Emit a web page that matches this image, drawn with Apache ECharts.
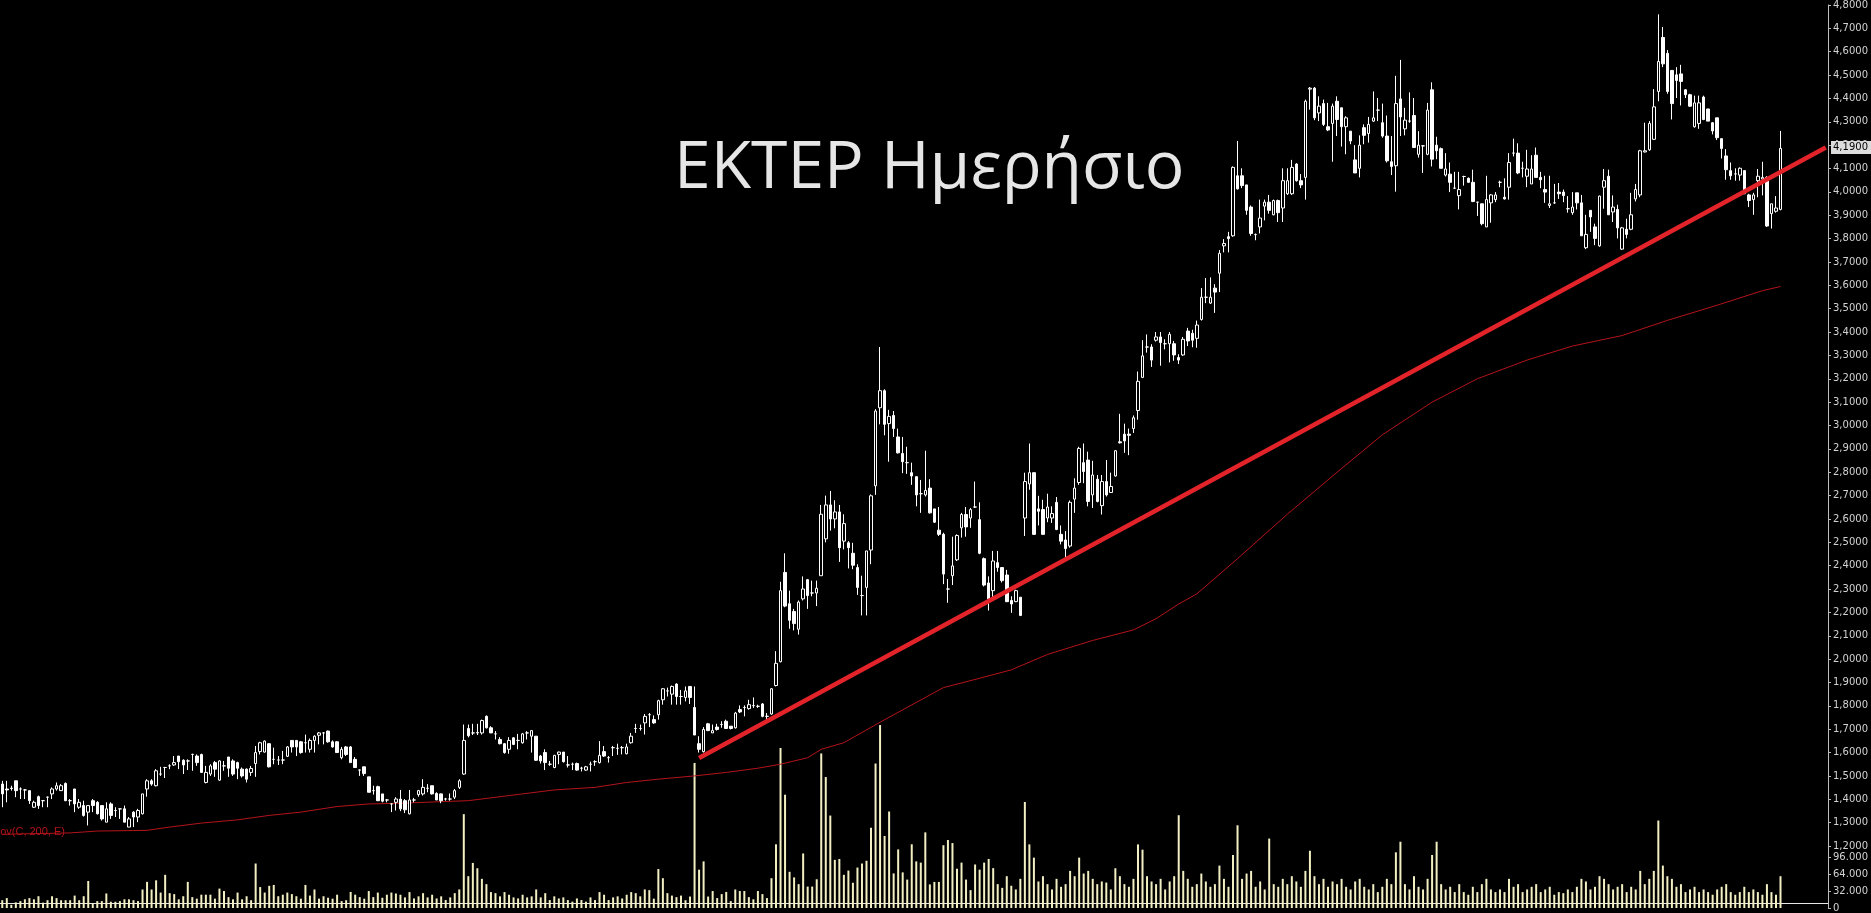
<!DOCTYPE html>
<html><head><meta charset="utf-8">
<script src="https://cdn.jsdelivr.net/npm/echarts@6/dist/echarts.min.js"></script>
<style>html,body{margin:0;padding:0;background:#000;overflow:hidden}#c{width:1871px;height:913px}</style>
</head><body><div id="c"></div>
<script>
// [open, close, low, high]
const ohlc = [
[1.465,1.423,1.366,1.479],[1.444,1.440,1.387,1.479],[1.448,1.446,1.437,1.458],[1.479,1.437,1.409,1.479],[1.444,1.444,1.401,1.451],
[1.440,1.440,1.401,1.444],[1.437,1.394,1.380,1.437],[1.366,1.387,1.363,1.394],[1.411,1.373,1.359,1.416],[1.394,1.394,1.366,1.397],
[1.409,1.409,1.366,1.411],[1.423,1.444,1.401,1.451],[1.444,1.458,1.437,1.472],[1.437,1.458,1.437,1.465],[1.468,1.394,1.392,1.472],
[1.394,1.394,1.373,1.401],[1.444,1.380,1.345,1.444],[1.366,1.387,1.359,1.401],[1.373,1.331,1.326,1.394],[1.345,1.373,1.288,1.373],
[1.394,1.373,1.345,1.401],[1.387,1.338,1.335,1.392],[1.373,1.316,1.309,1.373],[1.302,1.359,1.302,1.387],[1.380,1.331,1.316,1.387],
[1.352,1.352,1.324,1.366],[1.359,1.359,1.316,1.359],[1.359,1.302,1.302,1.373],[1.281,1.316,1.281,1.324],[1.345,1.324,1.281,1.349],
[1.324,1.352,1.302,1.359],[1.338,1.423,1.335,1.423],[1.444,1.479,1.411,1.486],[1.479,1.465,1.458,1.486],[1.458,1.522,1.455,1.529],
[1.508,1.508,1.500,1.539],[1.536,1.536,1.491,1.539],[1.543,1.543,1.529,1.550],[1.547,1.557,1.543,1.585],[1.585,1.561,1.529,1.585],
[1.567,1.547,1.508,1.571],[1.564,1.564,1.525,1.571],[1.592,1.592,1.522,1.595],[1.585,1.557,1.543,1.592],[1.592,1.515,1.515,1.595],
[1.472,1.515,1.468,1.543],[1.508,1.543,1.500,1.550],[1.557,1.529,1.496,1.564],[1.482,1.564,1.479,1.567],[1.543,1.543,1.522,1.564],
[1.581,1.533,1.496,1.581],[1.564,1.508,1.500,1.571],[1.557,1.533,1.486,1.561],[1.529,1.500,1.493,1.536],[1.529,1.486,1.472,1.532],
[1.515,1.532,1.500,1.543],[1.553,1.600,1.496,1.628],[1.604,1.642,1.592,1.646],[1.602,1.649,1.600,1.652],[1.638,1.539,1.536,1.638],
[1.571,1.571,1.550,1.621],[1.568,1.568,1.547,1.585],[1.568,1.568,1.550,1.607],[1.584,1.624,1.581,1.628],[1.652,1.624,1.600,1.652],
[1.652,1.624,1.585,1.652],[1.646,1.600,1.595,1.649],[1.642,1.642,1.600,1.677],[1.614,1.652,1.600,1.660],[1.652,1.670,1.600,1.674],
[1.674,1.684,1.635,1.688],[1.684,1.684,1.635,1.688],[1.692,1.646,1.642,1.694],[1.646,1.624,1.621,1.652],[1.646,1.600,1.600,1.649],
[1.578,1.614,1.571,1.624],[1.624,1.592,1.585,1.628],[1.624,1.557,1.557,1.628],[1.571,1.536,1.536,1.581],[1.525,1.525,1.500,1.527],
[1.539,1.510,1.500,1.539],[1.496,1.430,1.430,1.496],[1.437,1.437,1.420,1.458],[1.454,1.394,1.392,1.458],[1.423,1.392,1.387,1.423],
[1.397,1.397,1.387,1.401],[1.380,1.380,1.345,1.383],[1.387,1.401,1.352,1.409],[1.401,1.359,1.349,1.440],[1.394,1.355,1.341,1.401],
[1.338,1.397,1.335,1.440],[1.397,1.397,1.387,1.406],[1.420,1.437,1.411,1.440],[1.423,1.451,1.416,1.486],[1.447,1.447,1.430,1.465],
[1.458,1.423,1.420,1.458],[1.425,1.397,1.397,1.430],[1.423,1.394,1.383,1.425],[1.401,1.401,1.394,1.406],[1.401,1.401,1.394,1.425],
[1.409,1.437,1.401,1.444],[1.451,1.479,1.444,1.486],[1.508,1.652,1.505,1.720],[1.703,1.672,1.665,1.720],[1.684,1.684,1.675,1.723],
[1.684,1.686,1.675,1.723],[1.684,1.737,1.677,1.741],[1.755,1.706,1.703,1.759],[1.706,1.684,1.684,1.713],[1.680,1.680,1.656,1.692],
[1.656,1.638,1.635,1.666],[1.638,1.600,1.595,1.641],[1.614,1.652,1.595,1.666],[1.663,1.635,1.632,1.666],[1.652,1.652,1.614,1.680],
[1.642,1.680,1.638,1.684],[1.684,1.684,1.656,1.692],[1.670,1.694,1.600,1.694],[1.670,1.567,1.564,1.670],[1.585,1.564,1.553,1.590],
[1.600,1.557,1.525,1.614],[1.550,1.550,1.543,1.564],[1.536,1.588,1.533,1.590],[1.592,1.602,1.550,1.604],[1.602,1.561,1.557,1.602],
[1.547,1.547,1.536,1.585],[1.550,1.550,1.525,1.557],[1.553,1.525,1.522,1.557],[1.533,1.533,1.519,1.539],[1.525,1.539,1.522,1.543],
[1.550,1.550,1.519,1.561],[1.561,1.561,1.543,1.567],[1.557,1.588,1.553,1.649],[1.604,1.585,1.581,1.628],[1.578,1.578,1.557,1.585],
[1.621,1.621,1.585,1.628],[1.618,1.618,1.590,1.638],[1.621,1.621,1.592,1.628],[1.595,1.624,1.592,1.638],[1.642,1.670,1.638,1.684],
[1.703,1.703,1.684,1.723],[1.703,1.703,1.694,1.720],[1.727,1.755,1.677,1.765],[1.762,1.762,1.709,1.769],[1.741,1.727,1.723,1.759],
[1.762,1.822,1.741,1.826],[1.826,1.873,1.805,1.876],[1.864,1.864,1.840,1.878],[1.850,1.883,1.805,1.887],[1.893,1.840,1.805,1.897],
[1.840,1.840,1.805,1.868],[1.836,1.864,1.819,1.883],[1.883,1.836,1.808,1.883],[1.793,1.675,1.675,1.883],[1.638,1.614,1.600,1.670],
[1.604,1.699,1.600,1.709],[1.723,1.694,1.692,1.727],[1.684,1.694,1.684,1.720],[1.709,1.699,1.694,1.723],[1.720,1.720,1.706,1.734],
[1.734,1.703,1.703,1.741],[1.713,1.703,1.699,1.713],[1.706,1.769,1.703,1.774],[1.784,1.774,1.769,1.802],[1.793,1.793,1.755,1.802],
[1.788,1.805,1.784,1.826],[1.801,1.801,1.791,1.836],[1.798,1.798,1.791,1.805],[1.808,1.755,1.751,1.812],[1.755,1.755,1.741,1.769],
[1.765,1.873,1.762,1.876],[1.887,1.982,1.883,2.034],[1.989,2.293,1.986,2.331],[2.371,2.227,2.222,2.453],[2.237,2.166,2.130,2.293],
[2.204,2.152,2.123,2.215],[2.128,2.244,2.105,2.251],[2.258,2.300,2.251,2.354],[2.340,2.272,2.215,2.343],[2.283,2.283,2.269,2.336],
[2.283,2.303,2.227,2.336],[2.357,2.620,2.357,2.660],[2.515,2.660,2.500,2.700],[2.660,2.600,2.550,2.720],[2.600,2.630,2.560,2.680],
[2.630,2.477,2.416,2.660],[2.505,2.580,2.470,2.620],[2.498,2.477,2.388,2.505],[2.453,2.402,2.385,2.498],[2.392,2.307,2.275,2.406],
[2.272,2.272,2.187,2.357],[2.307,2.463,2.187,2.463],[2.467,2.699,2.406,2.705],[2.742,3.062,2.703,3.070],[3.076,3.149,3.005,3.336],
[3.149,3.005,2.958,3.155],[3.008,3.039,2.845,3.067],[3.043,2.987,2.951,3.062],[2.951,2.883,2.880,2.987],[2.880,2.845,2.796,2.951],
[2.841,2.841,2.793,2.909],[2.798,2.784,2.746,2.841],[2.781,2.703,2.654,2.781],[2.708,2.708,2.626,2.767],[2.703,2.722,2.696,2.892],
[2.732,2.626,2.623,2.770],[2.643,2.586,2.583,2.643],[2.552,2.534,2.527,2.651],[2.534,2.364,2.321,2.541],[2.300,2.300,2.241,2.343],
[2.357,2.399,2.317,2.524],[2.425,2.529,2.420,2.534],[2.562,2.619,2.520,2.626],[2.619,2.566,2.524,2.651],[2.604,2.640,2.562,2.647],
[2.651,2.651,2.647,2.760],[2.597,2.453,2.449,2.671],[2.430,2.317,2.311,2.435],[2.326,2.258,2.208,2.354],[2.293,2.420,2.258,2.463],
[2.413,2.392,2.374,2.463],[2.392,2.336,2.328,2.392],[2.360,2.246,2.244,2.382],[2.251,2.236,2.198,2.269],[2.246,2.293,2.244,2.297],
[2.265,2.187,2.184,2.265],[2.604,2.760,2.527,2.798],[2.750,2.798,2.725,2.923],[2.798,2.534,2.534,2.798],[2.643,2.633,2.572,2.699],
[2.640,2.534,2.534,2.682],[2.604,2.651,2.586,2.708],[2.604,2.623,2.583,2.654],[2.671,2.555,2.552,2.694],[2.534,2.505,2.491,2.572],
[2.510,2.473,2.435,2.548],[2.484,2.671,2.477,2.679],[2.685,2.732,2.626,2.774],[2.756,2.902,2.746,2.909],[2.841,2.803,2.753,2.923],
[2.852,2.675,2.654,2.888],[2.703,2.788,2.647,2.849],[2.770,2.675,2.671,2.788],[2.657,2.760,2.619,2.788],[2.760,2.703,2.696,2.852],
[2.713,2.739,2.711,2.798],[2.784,2.892,2.781,2.895],[2.930,2.926,2.923,3.050],[2.963,2.934,2.883,3.008],[2.963,2.958,2.873,2.987],
[2.987,3.033,2.968,3.043],[3.064,3.189,3.025,3.231],[3.206,3.298,3.203,3.365],[3.336,3.336,3.312,3.390],[3.336,3.280,3.251,3.348],
[3.365,3.379,3.359,3.400],[3.379,3.355,3.256,3.400],[3.350,3.350,3.326,3.369],[3.350,3.390,3.270,3.400],[3.350,3.302,3.277,3.362],
[3.291,3.280,3.263,3.305],[3.302,3.369,3.298,3.379],[3.404,3.362,3.340,3.418],[3.395,3.365,3.335,3.410],[3.373,3.430,3.333,3.449],
[3.454,3.549,3.449,3.588],[3.549,3.549,3.524,3.631],[3.524,3.549,3.520,3.634],[3.588,3.571,3.482,3.605],[3.652,3.737,3.571,3.751],
[3.769,3.779,3.741,3.798],[3.808,3.800,3.741,3.829],[3.812,4.105,3.808,4.109],[4.069,4.013,4.010,4.218],[4.069,4.027,4.016,4.101],
[4.030,3.921,3.902,4.030],[3.935,3.822,3.812,3.942],[3.817,3.817,3.793,3.822],[3.850,3.888,3.822,3.967],[3.939,3.956,3.878,3.967],
[3.956,3.921,3.907,3.987],[3.902,3.963,3.900,3.967],[3.963,3.911,3.871,3.967],[3.931,4.048,3.871,4.101],[3.992,4.048,3.987,4.101],
[3.992,4.105,3.987,4.137],[4.119,4.048,4.044,4.123],[4.048,4.030,4.016,4.076],[4.062,4.388,3.967,4.395],[4.440,4.444,4.352,4.449],
[4.444,4.317,4.307,4.449],[4.338,4.367,4.303,4.409],[4.378,4.289,4.282,4.395],[4.279,4.265,4.260,4.381],[4.293,4.367,4.129,4.378],
[4.388,4.310,4.239,4.409],[4.360,4.279,4.194,4.360],[4.279,4.317,4.161,4.324],[4.260,4.218,4.204,4.260],[4.137,4.081,4.081,4.200],
[4.101,4.200,4.062,4.242],[4.275,4.242,4.204,4.289],[4.250,4.289,4.211,4.321],[4.303,4.317,4.299,4.430],[4.350,4.350,4.303,4.402],
[4.296,4.239,4.232,4.378],[4.239,4.133,4.126,4.327],[4.129,4.109,4.072,4.239],[4.112,4.378,4.001,4.497],[4.398,4.321,4.239,4.565],
[4.270,4.307,4.242,4.360],[4.303,4.303,4.296,4.426],[4.327,4.190,4.190,4.402],[4.161,4.200,4.147,4.260],[4.197,4.197,4.081,4.200],
[4.161,4.350,4.157,4.381],[4.437,4.140,4.109,4.469],[4.200,4.176,4.140,4.236],[4.185,4.101,4.101,4.190],[4.072,4.098,4.066,4.166],
[4.076,4.041,3.999,4.126],[4.016,4.016,4.013,4.086],[3.984,4.010,3.925,4.086],[4.066,4.066,4.027,4.069],[4.058,4.041,4.038,4.062],
[4.041,3.959,3.956,4.095],[3.956,3.956,3.897,3.956],[3.949,3.864,3.857,3.949],[3.850,3.967,3.850,4.069],[3.953,3.987,3.868,3.991],
[3.967,3.987,3.956,3.999],[4.041,4.041,4.020,4.048],[3.977,3.970,3.967,4.058],[4.020,4.126,3.967,4.166],[4.166,4.166,4.152,4.228],
[4.166,4.081,4.076,4.208],[4.101,4.101,4.062,4.129],[4.067,4.098,4.020,4.180],[4.034,4.098,4.034,4.157],[4.157,4.062,4.062,4.190],
[4.062,4.052,4.016,4.086],[4.010,3.999,3.953,4.069],[3.942,3.949,3.931,4.069],[3.953,3.953,3.949,4.034],[3.999,3.992,3.970,4.038],
[3.999,3.984,3.956,4.010],[3.928,3.928,3.911,3.982],[3.911,3.935,3.902,3.999],[3.996,3.953,3.925,3.996],[3.953,3.812,3.812,3.987],
[3.761,3.818,3.755,3.902],[3.921,3.893,3.829,3.921],[3.850,3.801,3.772,3.864],[3.769,3.982,3.765,3.984],[4.020,4.048,3.928,4.098],
[4.067,3.902,3.902,4.095],[3.914,3.935,3.871,3.985],[3.925,3.846,3.801,3.945],[3.755,3.846,3.751,3.850],[3.840,3.818,3.801,3.885],
[3.840,3.902,3.836,3.996],[3.970,4.010,3.959,4.034],[3.987,4.176,3.977,4.180],[4.171,4.176,4.169,4.296],[4.180,4.293,4.176,4.303],
[4.225,4.364,4.222,4.440],[4.430,4.558,4.388,4.760],[4.661,4.548,4.534,4.706],[4.593,4.430,4.420,4.607],[4.520,4.378,4.310,4.520],
[4.501,4.477,4.402,4.534],[4.505,4.473,4.370,4.544],[4.437,4.416,4.402,4.440],[4.416,4.367,4.364,4.420],[4.279,4.381,4.275,4.412],
[4.293,4.381,4.270,4.412],[4.406,4.310,4.307,4.412],[4.355,4.303,4.303,4.355],[4.296,4.261,4.246,4.299],[4.317,4.232,4.222,4.317],
[4.228,4.186,4.143,4.228],[4.154,4.095,4.052,4.183],[4.091,4.069,4.052,4.126],[4.077,4.077,4.048,4.101],[4.072,4.101,4.048,4.105],
[4.091,3.992,3.992,4.091],[3.987,3.963,3.935,3.992],[3.967,3.987,3.902,3.996],[4.048,4.067,3.977,4.098],[4.055,4.062,3.985,4.129],
[4.062,3.854,3.850,4.067],[3.907,3.949,3.843,3.949],[3.917,3.931,3.911,3.982],[3.925,4.186,3.921,4.261]
];

// volume, thousands
const volumes = [
14.7,18.7,6.1,10.7,13.0,16.4,18.7,16.4,22.2,10.1,14.7,22.2,18.7,14.7,14.7,14.7,23.4,14.7,22.2,51.0,
8.9,13.0,13.0,27.4,11.8,11.8,13.0,16.4,16.4,14.7,13.0,34.9,49.3,34.9,52.2,29.1,62.6,28.0,26.2,16.4,
22.2,49.3,20.5,17.6,25.1,25.1,25.1,17.6,36.6,32.0,20.5,16.4,29.1,16.4,22.2,14.7,83.9,39.5,29.1,41.8,
43.5,22.2,25.1,29.1,26.2,22.2,17.6,43.5,23.4,34.9,17.6,22.2,19.3,17.6,25.1,13.0,14.7,30.3,25.1,20.5,
17.6,32.0,20.5,29.1,19.3,25.1,29.1,27.4,25,20,30,18,22,28,20,25,18,22,15,20,
28,35,177,60,85,75,55,45,30,28,22,30,25,20,18,25,20,22,35,20,
28,15,22,18,20,15,12,18,15,12,20,15,30,25,15,20,22,18,25,30,
28,22,35,33.7,17.6,73.5,56.2,28.0,23.4,20.5,23.4,14.7,21.6,273.6,72.3,87.9,21.6,32.0,18.7,26.2,
30.3,13.0,34.9,32.0,32.0,20.5,16.4,32.0,26.2,18.7,56.2,120.2,301.9,213.7,68.3,57.7,45.0,102.9,40.4,40.4,
54.2,291.5,247.0,174.4,90.8,92.5,62.6,70.6,47.6,76.3,83.9,89.1,151.4,272.5,345.1,135.8,182.0,65.2,110.5,67.2,
53.6,120.2,87.9,85.6,142.7,44.5,49.2,49.2,118.4,128.2,122.5,74.1,85.6,53.6,33.7,82.1,72.3,85.6,92.5,75.2,
45,38,60,42,35,55,200,120,95,50,60,45,35,55,40,45,70,60,95,65,
70,55,45,50,48,35,75,60,45,40,55,120,110,60,50,45,55,35,50,60,
175,70,55,40,45,65,50,40,45,80,55,40,100,156,55,65,70,40,50,35,
131,45,40,55,45,60,50,40,70,108,60,45,55,40,50,45,55,40,35,50,
55,40,35,45,30,40,55,45,105,125,45,35,60,40,35,55,100,125,45,35,
40,30,45,30,25,40,30,45,55,35,30,35,30,55,40,45,30,35,40,45,
30,35,40,25,30,28,35,30,40,55,50,35,40,60,55,45,35,40,45,30,
40,35,70,45,55,70,165,80,60,55,40,45,30,35,40,30,35,30,25,35,
40,45,30,25,30,40,30,35,30,25,45,30,25,60
];

// Mov(C,200,E): [candle index, value]
const emaPoints = [[0,1.250],[15,1.256],[21,1.264],[32,1.267],[37,1.281],[44,1.298],[52,1.312],[59,1.331],[66,1.345],[74,1.369],
[81,1.380],[88,1.383],[96,1.389],[103,1.394],[122,1.440],[131,1.451],[138,1.472],[145,1.486],[153,1.500],[160,1.515],[167,1.533],
[172,1.550],[178,1.578],[181,1.614],[186,1.642],[194,1.730],[208,1.878],[216,1.918],[223,1.954],[231,2.020],[241,2.080],[250,2.125],
[255,2.173],[260,2.236],[264,2.279],[273,2.430],[284,2.620],[295,2.800],[305,2.960],[316,3.100],[326,3.200],[337,3.280],[347,3.340],
[358,3.385],[368,3.450],[379,3.515],[389,3.577],[393,3.595]];

const trendPoints = [[154,1.577],[403,4.19]];
const lastPrice = 4.19;
const priceMin = 1.2, priceMax = 4.8, priceStep = 0.1;
const volTicks = [0, 32, 64, 96];           // thousands
const volStep = 32;
const futureSlots = 10;

// volume pane reaches up to the bottom of the price scale; 96.000 sits 55px above its base
const volPaneTop = 846, volPaneBase = 913, vol96Y = 858;
const volMax = volTicks[3] * (volPaneBase - volPaneTop) / (volPaneBase - vol96Y);

const categories = [];
for (let i = 0; i < ohlc.length + futureSlots; i++) categories.push(String(i + 1));

const chart = echarts.init(document.getElementById('c'), null, {renderer: 'canvas'});
const axisGray = '#bdbdbd';
const labelFont = {color: '#d2d2d2', fontFamily: 'DejaVu Sans', fontSize: 10};

chart.setOption({
  backgroundColor: '#000',
  animation: false,
  graphic: [
    {type: 'text', left: 674, top: 136, z: 50,
     style: {text: 'EKTEP Ημερήσιο', fill: '#e6e6e6', font: '66px "Open Sans"'}},
    {type: 'text', left: -9, top: 826, z: 50,
     style: {text: 'Mov(C, 200, E)', fill: '#b3141b', font: '11px "Liberation Sans"'}}
  ],
  grid: [
    {left: 0, right: 36, top: -2, bottom: 67},
    {left: 0, right: 36, top: volPaneTop, bottom: 0}
  ],
  xAxis: [
    {type: 'category', gridIndex: 0, data: categories, boundaryGap: true, show: false},
    {type: 'category', gridIndex: 1, data: categories, boundaryGap: true, position: 'top', offset: -5,
     axisLine: {show: true, lineStyle: {color: '#e8e8e8', width: 1}}, axisTick: {show: false}, axisLabel: {show: false}}
  ],
  yAxis: [
    {type: 'value', gridIndex: 0, position: 'right', min: priceMin, max: priceMax, interval: priceStep,
     splitLine: {show: false},
     axisLine: {show: true, lineStyle: {color: axisGray}},
     axisTick: {show: true, length: 3, lineStyle: {color: axisGray}},
     axisLabel: Object.assign({margin: 5, formatter: v => v.toFixed(4).replace('.', ',')}, labelFont)},
    {type: 'value', gridIndex: 1, position: 'right', min: 0, max: volMax, interval: volStep,
     splitLine: {show: false},
     axisLine: {show: true, lineStyle: {color: axisGray}},
     axisTick: {show: true, length: 3, lineStyle: {color: axisGray}},
     axisLabel: Object.assign({margin: 5, showMaxLabel: false,
       formatter: v => volTicks.indexOf(v) < 0 ? '' : (v === 0 ? '0' : v + '.000')}, labelFont)}
  ],
  series: [
    {type: 'bar', name: 'Volume', xAxisIndex: 1, yAxisIndex: 1, data: volumes, barWidth: 2, clip: false,
     itemStyle: {color: '#f2efc2'}, z: 1, silent: true},
    {type: 'line', name: 'EMA200', xAxisIndex: 0, yAxisIndex: 0, data: emaPoints, showSymbol: false,
     lineStyle: {color: '#b3141b', width: 1}, z: 2, silent: true},
    {type: 'candlestick', name: 'EKTEP', xAxisIndex: 0, yAxisIndex: 0, data: ohlc, barWidth: 3, z: 3,
     itemStyle: {color: '#000', color0: '#fff', borderColor: '#fff', borderColor0: '#fff', borderWidth: 1},
     markLine: {silent: true, symbol: ['none', 'none'], data: [{yAxis: lastPrice}],
       lineStyle: {color: 'rgba(0,0,0,0)', width: 1},
       label: {show: true, position: 'end', distance: 3, formatter: p => p.value.toFixed(4).replace('.', ','),
         backgroundColor: '#dcdcdc', color: '#000', fontFamily: 'DejaVu Sans', fontSize: 10, padding: [2, 3, 1, 2]}}},
    {type: 'line', name: 'Trend', xAxisIndex: 0, yAxisIndex: 0, data: trendPoints, showSymbol: false,
     lineStyle: {color: '#e3232a', width: 4.5, cap: 'butt'}, z: 5, silent: true}
  ]
});
</script>
</body></html>
